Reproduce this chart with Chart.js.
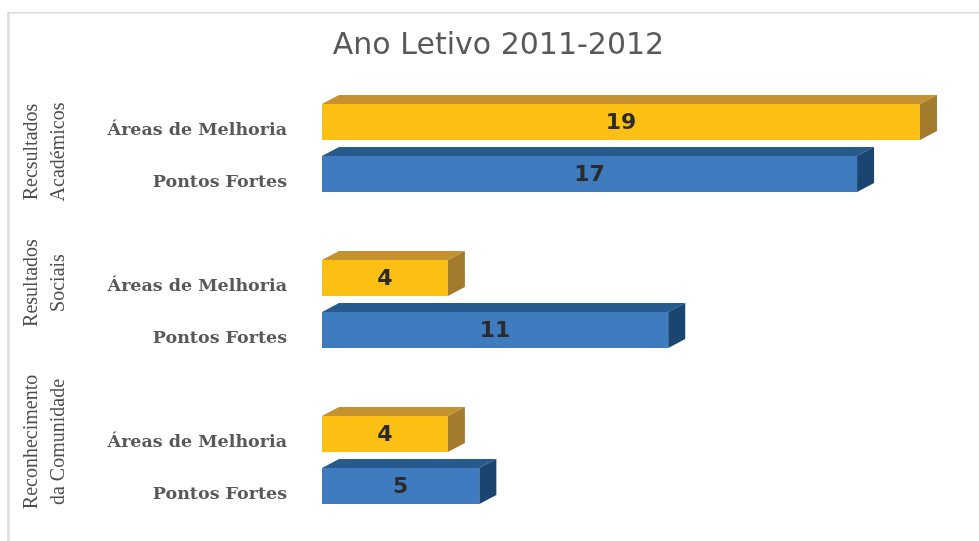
<!DOCTYPE html>
<html lang="pt">
<head>
<meta charset="utf-8">
<title>Ano Letivo 2011-2012</title>
<script src="https://cdn.jsdelivr.net/npm/chart.js@4"></script>
<style>
  html, body { margin: 0; padding: 0; background: #fff; }
  #wrap { width: 979px; height: 541px; }
</style>
</head>
<body>
<div id="wrap"><canvas id="anoChart" width="979" height="541"></canvas></div>
<script>
// grupos do eixo vertical (duas linhas cada)
var grupos = [
  ["Recsultados", "Académicos"],
  ["Resultados", "Sociais"],
  ["Reconhecimento", "da Comunidade"]
];
var linhas = ["Áreas de Melhoria", "Pontos Fortes"];
var areasMelhoria = [19, 4, 4];
var pontosFortes = [17, 11, 5];

// cores: frente, topo, lado
var corAreas = ["#fcbf14", "#c4922f", "#a37b2c"];
var corPontos = ["#3f7bbf", "#275b8e", "#1a4570"];

// monta as categorias com uma linha vazia entre os grupos
var labels = [];
var valores = [];
var cores = [];
var indiceGrupo = [];
for (var g = 0; g < grupos.length; g++) {
  labels.push(linhas[0]);
  valores.push(areasMelhoria[g]);
  cores.push(corAreas);
  indiceGrupo.push(labels.length - 1);
  labels.push(linhas[1]);
  valores.push(pontosFortes[g]);
  cores.push(corPontos);
  if (g < grupos.length - 1) {
    labels.push("");
    valores.push(null);
    cores.push(corAreas);
  }
}

// moldura cinza à esquerda e em cima
var moldura = {
  id: "moldura",
  beforeDraw: function (chart) {
    var ctx = chart.ctx;
    ctx.save();
    ctx.fillStyle = "#ffffff";
    ctx.fillRect(0, 0, chart.width, chart.height);
    ctx.fillStyle = "#e2e2e2";
    ctx.fillRect(7, 12, 3, chart.height - 12);
    ctx.fillStyle = "#d9d9d9";
    ctx.fillRect(7, 12, chart.width - 7, 1.5);
    ctx.restore();
  }
};

// efeito 3D: topo e lado de cada barra, e o valor no meio
var barras3d = {
  id: "barras3d",
  afterDatasetsDraw: function (chart) {
    var ctx = chart.ctx;
    var meta = chart.getDatasetMeta(0);
    var dx = 17, dy = 9;
    ctx.save();
    meta.data.forEach(function (bar, i) {
      var v = valores[i];
      if (v === null) return;
      var p = bar.getProps(["x", "y", "base", "height"], true);
      var top = p.y - p.height / 2;
      var bottom = p.y + p.height / 2;
      var c = cores[i];

      ctx.fillStyle = c[1];
      ctx.beginPath();
      ctx.moveTo(p.base, top);
      ctx.lineTo(p.base + dx, top - dy);
      ctx.lineTo(p.x + dx, top - dy);
      ctx.lineTo(p.x, top);
      ctx.closePath();
      ctx.fill();

      ctx.fillStyle = c[2];
      ctx.beginPath();
      ctx.moveTo(p.x, top);
      ctx.lineTo(p.x + dx, top - dy);
      ctx.lineTo(p.x + dx, bottom - dy);
      ctx.lineTo(p.x, bottom);
      ctx.closePath();
      ctx.fill();

      ctx.fillStyle = "#2b2b2b";
      ctx.font = "bold 22px 'DejaVu Sans'";
      ctx.textAlign = "center";
      ctx.textBaseline = "middle";
      ctx.fillText(String(v), (p.base + p.x) / 2, p.y + 1);
    });
    ctx.restore();
  }
};

// rótulos dos grupos, rodados na vertical
var rotulosGrupo = {
  id: "rotulosGrupo",
  afterDraw: function (chart) {
    var ctx = chart.ctx;
    var y = chart.scales.y;
    var desvio = [4, -21, -18];
    ctx.save();
    ctx.fillStyle = "#4f4f4f";
    ctx.font = "20px 'Liberation Serif'";
    ctx.textAlign = "center";
    ctx.textBaseline = "middle";
    grupos.forEach(function (linhasGrupo, g) {
      var i = indiceGrupo[g];
      var meio = (y.getPixelForValue(i) + y.getPixelForValue(i + 1)) / 2 + desvio[g];
      ctx.save();
      ctx.translate(0, meio);
      ctx.rotate(-Math.PI / 2);
      ctx.fillText(linhasGrupo[0], 0, 32);
      ctx.fillText(linhasGrupo[1], 0, 59);
      ctx.restore();
    });
    ctx.restore();
  }
};

var ctx = document.getElementById("anoChart");
var anoChart = new Chart(ctx, {
  type: "bar",
  data: {
    labels: labels,
    datasets: [{
      data: valores,
      backgroundColor: cores.map(function (c) { return c[0]; }),
      borderWidth: 0,
      barPercentage: 0.69,
      categoryPercentage: 1
    }]
  },
  options: {
    indexAxis: "y",
    responsive: false,
    animation: false,
    layout: { padding: { left: 45.5, right: 27.5, top: 0, bottom: 29 } },
    scales: {
      x: { display: false, min: 0, max: 20 },
      y: {
        grid: { display: false, drawTicks: false },
        border: { display: false },
        ticks: {
          padding: 35,
          labelOffset: 8,
          color: "#595959",
          font: { family: "'DejaVu Serif'", size: 17.5, weight: "bold" }
        },
        afterFit: function (scale) {
          scale.width = 276.5;
          scale.paddingTop = 0;
          scale.paddingBottom = 0;
        }
      }
    },
    plugins: {
      legend: { display: false },
      tooltip: { enabled: false },
      title: {
        display: true,
        text: "Ano Letivo 2011-2012",
        color: "#595959",
        font: { family: "'DejaVu Sans'", size: 30, weight: "normal", lineHeight: 1.2 },
        padding: { top: 28, bottom: 32 }
      }
    }
  },
  plugins: [moldura, barras3d, rotulosGrupo]
});
</script>
</body>
</html>
